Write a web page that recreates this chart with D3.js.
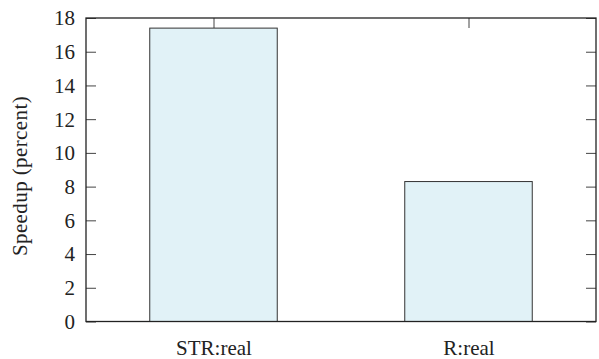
<!DOCTYPE html>
<html>
<head>
<meta charset="utf-8">
<script src="https://cdn.jsdelivr.net/npm/d3@7"></script>
<style>
  html, body { margin: 0; padding: 0; background: #fff; }
  svg { display: block; }
  svg text { font-family: 'Liberation Serif', serif; }
</style>
</head>
<body>
<script>
// Speedup per configuration
const categories = ["STR:real", "R:real"];
const speedups = [17.4, 8.3];
const yTicks = [0, 2, 4, 6, 8, 10, 12, 14, 16, 18];
const yLabel = "Speedup (percent)";

const width = 599, height = 359;
const margin = { top: 18, right: 3, bottom: 37.5, left: 86 };
const innerW = width - margin.left - margin.right;
const innerH = height - margin.top - margin.bottom;
const tickLen = 10;
const fontFamily = "Liberation Serif";
const fontSize = 21;

const svg = d3.select("body").append("svg")
  .attr("width", width).attr("height", height)
  .attr("font-family", fontFamily);

const g = svg.append("g").attr("transform", `translate(${margin.left},${margin.top})`);

const x = d3.scalePoint().domain(categories).range([0, innerW]).padding(0.5);
const barW = x.step() * 0.5;
const y = d3.scaleLinear().domain([0, 18]).range([innerH, 0]);

// Bars
g.selectAll("rect.bar")
  .data(categories.map((c, i) => ({ c, v: speedups[i] })))
  .join("rect")
  .attr("class", "bar")
  .attr("x", d => x(d.c) - barW / 2)
  .attr("y", d => y(d.v))
  .attr("width", barW)
  .attr("height", d => y(0) - y(d.v))
  .attr("fill", "#e1f2f7")
  .attr("stroke", "#333")
  .attr("stroke-width", 1);

// Left axis: inward ticks, labels outside
const leftAxis = g.append("g").call(
  d3.axisLeft(y).tickValues(yTicks).tickSize(-tickLen).tickPadding(11)
);
// Right mirror ticks
const rightAxis = g.append("g").attr("transform", `translate(${innerW},0)`).call(
  d3.axisRight(y).tickValues(yTicks).tickSize(-tickLen).tickFormat("")
);
// Top mirror ticks at category positions
const topAxis = g.append("g").call(
  d3.axisTop(x).tickSize(-tickLen).tickFormat("")
);
// Bottom axis with category labels
const bottomAxis = g.append("g").attr("transform", `translate(0,${innerH})`).call(
  d3.axisBottom(x).tickSize(-tickLen).tickPadding(33.5)
);

[leftAxis, rightAxis, topAxis, bottomAxis].forEach(ax => {
  ax.attr("font-family", fontFamily).attr("font-size", fontSize);
  ax.select(".domain").remove();
  ax.selectAll(".tick line").attr("stroke", "#444").attr("stroke-width", 1);
  ax.selectAll("text").attr("fill", "#222");
});
leftAxis.selectAll("text").attr("dy", "0.33em");
bottomAxis.selectAll("text").attr("dy", "0");

// Bar outlines drawn above the bottom ticks
g.selectAll("rect.bar").raise();

// Plot frame
g.append("rect")
  .attr("x", 0).attr("y", 0)
  .attr("width", innerW).attr("height", innerH)
  .attr("fill", "none")
  .attr("stroke", "#222")
  .attr("stroke-width", 1.3);

// Y-axis title
svg.append("text")
  .attr("transform", `translate(27,176) rotate(-90)`)
  .attr("text-anchor", "middle")
  .attr("fill", "#222")
  .attr("font-size", fontSize)
  .attr("letter-spacing", 0.4)
  .text(yLabel);
</script>
</body>
</html>
